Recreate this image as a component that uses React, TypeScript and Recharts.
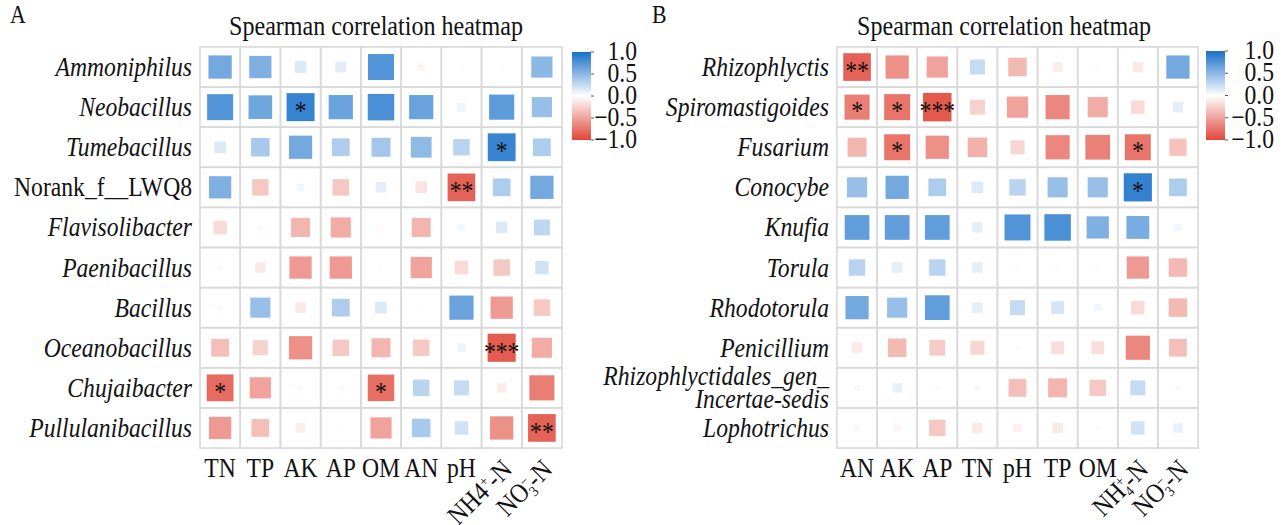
import React from "react";
import { ScatterChart, Scatter, XAxis, YAxis } from "recharts";

const FONT = '"Liberation Serif", "Times New Roman", serif';
const FS = 27;
const SX = 0.875; // narrow the serif face a little

// Panel A: bacterial genera vs. soil properties
const bacteriaGenera = [
  "Ammoniphilus",
  "Neobacillus",
  "Tumebacillus",
  "Norank_f__LWQ8",
  "Flavisolibacter",
  "Paenibacillus",
  "Bacillus",
  "Oceanobacillus",
  "Chujaibacter",
  "Pullulanibacillus",
];
const bacteriaEnv = ["TN", "TP", "AK", "AP", "OM", "AN", "pH", "NH4⁺-N", "NO₃⁻-N"];
const bacteriaRho = [
  [0.6, 0.55, 0.15, 0.13, 0.75, -0.06, -0.02, 0.03, 0.5],
  [0.75, 0.62, 0.87, 0.65, 0.78, 0.65, 0.08, 0.7, 0.45],
  [0.15, 0.38, 0.6, 0.35, 0.4, 0.48, 0.3, 0.86, 0.35],
  [0.55, -0.3, 0.06, -0.3, 0.12, -0.15, -0.85, 0.35, 0.6],
  [-0.2, -0.04, -0.4, -0.45, -0.04, -0.4, 0.05, 0.15, 0.28],
  [-0.04, -0.12, -0.55, -0.55, 0.02, -0.5, -0.2, -0.3, 0.2],
  [-0.04, 0.45, -0.12, 0.35, 0.15, -0.02, 0.65, -0.55, -0.3],
  [-0.35, -0.25, -0.6, -0.3, -0.4, -0.3, 0.08, -0.88, -0.45],
  [-0.8, -0.5, -0.04, -0.04, -0.78, 0.3, 0.25, -0.1, -0.7],
  [-0.55, -0.35, -0.1, 0.02, -0.5, 0.38, 0.2, -0.6, -0.85],
];
const bacteriaSig = [
  ["", "", "", "", "", "", "", "", ""],
  ["", "", "*", "", "", "", "", "", ""],
  ["", "", "", "", "", "", "", "*", ""],
  ["", "", "", "", "", "", "**", "", ""],
  ["", "", "", "", "", "", "", "", ""],
  ["", "", "", "", "", "", "", "", ""],
  ["", "", "", "", "", "", "", "", ""],
  ["", "", "", "", "", "", "", "***", ""],
  ["*", "", "", "", "*", "", "", "", ""],
  ["", "", "", "", "", "", "", "", "**"],
];

// Panel B: fungal genera vs. soil properties
const fungiGenera = [
  "Rhizophlyctis",
  "Spiromastigoides",
  "Fusarium",
  "Conocybe",
  "Knufia",
  "Torula",
  "Rhodotorula",
  "Penicillium",
  "Rhizophlyctidales_gen_\nIncertae-sedis",
  "Lophotrichus",
];
const fungiEnv = ["AN", "AK", "AP", "TN", "pH", "TP", "OM", "NH₄⁺-N", "NO₃⁻-N"];
const fungiRho = [
  [-0.85, -0.6, -0.5, 0.25, -0.38, -0.1, 0.03, -0.12, 0.6],
  [-0.7, -0.75, -0.9, -0.25, -0.5, -0.65, -0.45, -0.2, 0.12],
  [-0.4, -0.75, -0.6, -0.42, -0.22, -0.65, -0.68, -0.75, -0.33],
  [0.45, 0.6, 0.35, 0.15, 0.3, 0.45, 0.45, 0.88, 0.35],
  [0.68, 0.68, 0.68, 0.12, 0.75, 0.78, 0.55, 0.58, 0.06],
  [0.3, 0.12, 0.3, 0.12, 0.03, 0.03, 0.03, -0.55, -0.38],
  [0.6, 0.45, 0.68, 0.12, 0.25, 0.18, 0.06, -0.2, -0.38],
  [-0.12, -0.38, -0.28, -0.22, 0.02, -0.18, -0.18, -0.65, -0.35],
  [0.04, 0.1, -0.02, 0.04, -0.35, -0.4, -0.3, 0.25, 0.03],
  [0.04, -0.06, -0.3, -0.12, -0.08, -0.12, -0.02, 0.2, 0.1],
];
const fungiSig = [
  ["**", "", "", "", "", "", "", "", ""],
  ["*", "*", "***", "", "", "", "", "", ""],
  ["", "*", "", "", "", "", "", "*", ""],
  ["", "", "", "", "", "", "", "*", ""],
  ["", "", "", "", "", "", "", "", ""],
  ["", "", "", "", "", "", "", "", ""],
  ["", "", "", "", "", "", "", "", ""],
  ["", "", "", "", "", "", "", "", ""],
  ["", "", "", "", "", "", "", "", ""],
  ["", "", "", "", "", "", "", "", ""],
];

const legendTicks = [1, 0.5, 0, -0.5, -1];
const plainNames = ["Norank_f__LWQ8"];

const CELL = 40.2;
const MAX_SIDE = 30;
const BLUE = [24, 112, 202];
const RED = [224, 70, 56];

function fillFor(r: number) {
  const t = Math.min(1, Math.abs(r));
  const end = r >= 0 ? BLUE : RED;
  const c = end.map((v) => Math.round(255 + (v - 255) * t));
  return `rgb(${c[0]},${c[1]},${c[2]})`;
}

function toPoints(rho: number[][], sig: string[][]) {
  return rho.flatMap((row, i) => row.map((r, j) => ({ x: j, y: i, r, sig: sig[i][j] })));
}

// text drawn at (x, y) with the horizontally narrowed face
function SText(props: any) {
  const { x, y, anchor = "start", size = FS, italic = false, rotate = 0, children } = props;
  return (
    <text
      transform={`translate(${x},${y}) rotate(${rotate}) scale(${SX},1)`}
      textAnchor={anchor}
      fontSize={size}
      fontFamily={FONT}
      fontStyle={italic ? "italic" : "normal"}
      fill="#111"
    >
      {children}
    </text>
  );
}

function HeatCell(props: any) {
  const { cx, cy, payload } = props;
  const side = MAX_SIDE * Math.sqrt(Math.abs(payload.r));
  return (
    <g>
      <rect x={cx - CELL / 2} y={cy - CELL / 2} width={CELL} height={CELL} fill="none" stroke="#d9d9d9" strokeWidth={1.6} />
      <rect x={cx - side / 2} y={cy - side / 2} width={side} height={side} fill={fillFor(payload.r)} />
      {payload.sig && (
        <SText x={cx} y={cy + 13} anchor="middle">
          {payload.sig}
        </SText>
      )}
    </g>
  );
}

const SUB = "₀₁₂₃₄₅₆₇₈₉";
const SUP = "⁺⁻";

// splits "NO₃⁻-N" into plain / subscript / superscript runs
function labelRuns(label: string) {
  const runs: { text: string; kind: string }[] = [];
  for (const ch of label) {
    let kind = "n";
    let t = ch;
    if (SUB.includes(ch)) {
      kind = "sub";
      t = String(SUB.indexOf(ch));
    } else if (SUP.includes(ch)) {
      kind = "sup";
      t = ch === "⁺" ? "+" : "−";
    }
    const last = runs[runs.length - 1];
    if (last && last.kind === kind) last.text += t;
    else runs.push({ text: t, kind });
  }
  return runs;
}

function EnvTick(props: any) {
  const { x, y, payload, labels } = props;
  const label: string = labels[payload.value];
  const runs = labelRuns(label);
  if (runs.length === 1) {
    return (
      <SText x={x} y={y + 21} anchor="middle">
        {label}
      </SText>
    );
  }
  let offset = 0;
  const spans = runs.map((run, k) => {
    const target = run.kind === "sub" ? 5 : run.kind === "sup" ? -9 : 0;
    const dy = target - offset;
    offset = target;
    const back = run.kind === "sup" && k > 0 && runs[k - 1].kind === "sub" ? -8 : 0;
    return (
      <tspan key={k} dy={dy} dx={back} fontSize={run.kind === "n" ? FS : 15}>
        {run.text}
      </tspan>
    );
  });
  return (
    <SText x={x + 12} y={y + 15} anchor="end" rotate={-45}>
      {spans}
    </SText>
  );
}

function TaxonTick(props: any) {
  const { x, y, payload, names } = props;
  const name: string = names[payload.value];
  const lines = name.split("\n");
  const first = 9 - ((lines.length - 1) * 23) / 2;
  return (
    <SText x={x} y={y} anchor="end" italic={!plainNames.includes(name)}>
      {lines.map((ln, k) => (
        <tspan key={k} x={0} y={first + k * 23}>
          {ln}
        </tspan>
      ))}
    </SText>
  );
}

function Heatmap(props: { rho: number[][]; sig: string[][]; rows: string[]; cols: string[]; width: number; left: number; right: number }) {
  const { rho, sig, rows, cols, width, left, right } = props;
  return (
    <ScatterChart width={width} height={525} margin={{ top: 47, right, bottom: 17, left: 0 }}>
      <XAxis
        type="number"
        dataKey="x"
        domain={[-0.5, cols.length - 0.5]}
        ticks={cols.map((_, j) => j)}
        interval={0}
        axisLine={false}
        tickLine={false}
        height={60}
        tick={<EnvTick labels={cols} />}
      />
      <YAxis
        type="number"
        dataKey="y"
        domain={[-0.5, rows.length - 0.5]}
        ticks={rows.map((_, i) => i)}
        interval={0}
        reversed
        axisLine={false}
        tickLine={false}
        width={left}
        tick={<TaxonTick names={rows} />}
      />
      <Scatter data={toPoints(rho, sig)} shape={<HeatCell />} isAnimationActive={false} />
    </ScatterChart>
  );
}

function ColorBar(props: { id: string; x: number; top: number; bottom: number; labelRight: number }) {
  const { id, x, top, bottom, labelRight } = props;
  const w = 19;
  const pos = (v: number) => top + ((1 - v) / 2) * (bottom - top);
  return (
    <g>
      <defs>
        <linearGradient id={id} x1="0" y1="0" x2="0" y2="1">
          <stop offset="0%" stopColor={fillFor(1)} />
          <stop offset="50%" stopColor="#ffffff" />
          <stop offset="100%" stopColor={fillFor(-1)} />
        </linearGradient>
      </defs>
      <rect x={x} y={top} width={w} height={bottom - top} fill={`url(#${id})`} />
      {legendTicks.map((v) => (
        <g key={v}>
          <line x1={x + w} x2={x + w + 3} y1={pos(v)} y2={pos(v)} stroke="#555" strokeWidth={1} />
          <SText x={labelRight} y={pos(v) + 8} anchor="end">
            {v === 0 ? "0.0" : (v < 0 ? "−" : "") + Math.abs(v).toFixed(1)}
          </SText>
        </g>
      ))}
    </g>
  );
}

export default function App() {
  return (
    <div style={{ position: "absolute", left: 0, top: 0, width: 1287, height: 525, background: "#fff" }}>
      <div style={{ position: "absolute", left: 0, top: 0 }}>
        <Heatmap rho={bacteriaRho} sig={bacteriaSig} rows={bacteriaGenera} cols={bacteriaEnv} width={640} left={200} right={78} />
      </div>
      <div style={{ position: "absolute", left: 560, top: 0 }}>
        <Heatmap rho={fungiRho} sig={fungiSig} rows={fungiGenera} cols={fungiEnv} width={727} left={277} right={89} />
      </div>
      <svg width={1287} height={525} style={{ position: "absolute", left: 0, top: 0, pointerEvents: "none" }}>
        <SText x={10} y={23} size={25}>A</SText>
        <SText x={652} y={23} size={25}>B</SText>
        <SText x={376} y={35} anchor="middle" size={27.5}>
          Spearman correlation heatmap
        </SText>
        <SText x={1004} y={35} anchor="middle" size={27.5}>
          Spearman correlation heatmap
        </SText>
        <ColorBar id="barA" x={572} top={52} bottom={140} labelRight={637} />
        <ColorBar id="barB" x={1206} top={51} bottom={140} labelRight={1274} />
      </svg>
    </div>
  );
}
